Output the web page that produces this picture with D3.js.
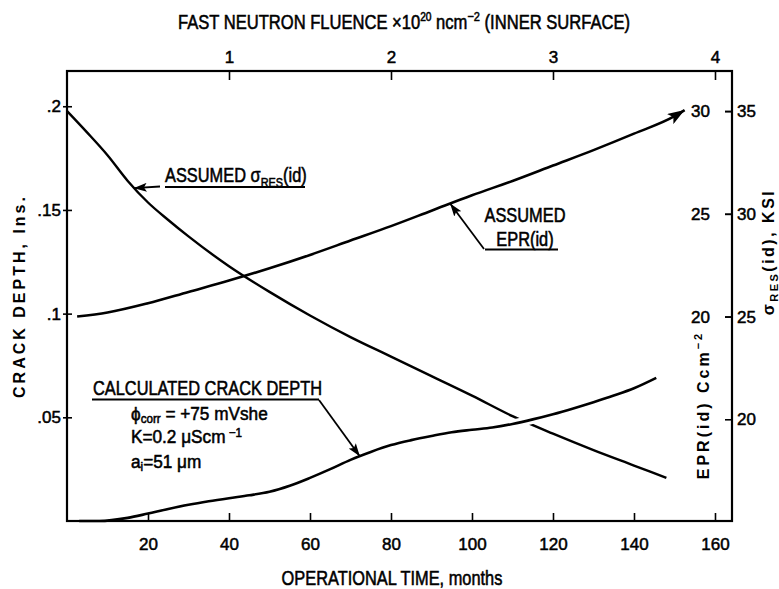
<!DOCTYPE html>
<html>
<head>
<meta charset="utf-8">
<script src="https://cdn.jsdelivr.net/npm/d3@7"></script>
<style>
  body { margin: 0; background: #fff; }
  svg { display: block; }
  .sans { font-family: "Liberation Sans", Arimo, Arial, Helvetica, sans-serif; }
  .wide { font-family: "Liberation Sans", Arimo, Arial, Helvetica, sans-serif; font-weight: bold; }
</style>
</head>
<body>
<svg id="chart" width="779" height="589"></svg>
<script>
// ---- tick values ----
const monthTicks = [20, 40, 60, 80, 100, 120, 140, 160];
const fluenceTicks = [1, 2, 3, 4];
const depthTicks = [0.05, 0.1, 0.15, 0.2];
const eprTicks = [20, 25, 30];
const sigmaTicks = [20, 25, 30, 35];

// ---- calculated crack depth (in.) vs operational time (months) ----
const depthMonths = [3, 8, 15, 20, 25, 30, 35, 40, 45, 50, 55, 60, 65, 70, 75, 80, 85, 90, 95, 100, 105, 110, 115, 120, 125, 130, 135, 140, 145.5];
const depthValues = [0, 0, 0.0015, 0.0036, 0.0058, 0.0078, 0.0095, 0.0110, 0.0124, 0.0141, 0.0170, 0.0208, 0.0250, 0.0295, 0.0333, 0.0366, 0.0390, 0.0410, 0.0428, 0.0440, 0.0451, 0.0468, 0.0490, 0.0515, 0.0543, 0.0573, 0.0605, 0.0640, 0.0690];

// ---- assumed EPR(id), C/cm^2 ----
const eprMonths = [2.5, 10, 20, 30, 40, 50, 60, 70, 80, 90, 100, 110, 120, 130, 140, 150, 152.5];
const eprValues = [20.0, 20.2, 20.65, 21.2, 21.75, 22.35, 23.0, 23.7, 24.4, 25.15, 25.9, 26.6, 27.35, 28.1, 28.9, 29.75, 30.05];

// ---- assumed residual stress sigma_RES(id), ksi ----
const sigmaMonths = [0, 5, 10, 15, 20, 25, 30, 40, 50, 60, 70, 80, 90, 100, 110, 120, 130, 140, 148];
const sigmaValues = [35.0, 33.95, 32.85, 31.6, 30.55, 29.7, 28.9, 27.45, 26.2, 25.05, 24.0, 23.05, 22.1, 21.15, 20.15, 19.3, 18.5, 17.75, 17.15];

// ---- frame ----
const L = 67, R = 732, T = 71, B = 521;

const x = d3.scaleLinear().domain([0, 164.2]).range([L, R]);
const xTop = d3.scaleLinear().domain([0, 164.2 / 40]).range([L, R]);
const yDepth = d3.scaleLinear().domain([0, 0.217]).range([B, T]);
const yEpr = d3.scaleLinear().domain([10.05, 31.95]).range([B, T]);
const ySigma = d3.scaleLinear().domain([15.05, 36.95]).range([B, T]);

const svg = d3.select("#chart");

// arrowheads
const defs = svg.append("defs");
function arrowMarker(id, len, half) {
  defs.append("marker")
    .attr("id", id)
    .attr("markerUnits", "userSpaceOnUse")
    .attr("viewBox", `0 0 ${len} ${half * 2}`)
    .attr("markerWidth", len)
    .attr("markerHeight", half * 2)
    .attr("refX", len)
    .attr("refY", half)
    .attr("orient", "auto")
    .append("path")
    .attr("d", `M0,0 L${len},${half} L0,${half * 2} L${len * 0.22},${half} Z`)
    .attr("fill", "#000");
}
arrowMarker("head", 13, 4.5);
arrowMarker("headBig", 17, 6);

function series(months, values, yScale) {
  return d3.zip(months, values).map(([m, v]) => [x(m), yScale(v)]);
}
const curve = d3.line().curve(d3.curveMonotoneX);

// residual stress curve
svg.append("path")
  .attr("d", curve(series(sigmaMonths, sigmaValues, ySigma)))
  .attr("fill", "none").attr("stroke", "#000").attr("stroke-width", 2.4);

// EPR curve, ending in an arrow
svg.append("path")
  .attr("d", curve(series(eprMonths, eprValues, yEpr)))
  .attr("fill", "none").attr("stroke", "#000").attr("stroke-width", 2.6)
  .attr("marker-end", "url(#headBig)");

// crack depth curve passes over the stress curve
const depthPath = curve(series(depthMonths, depthValues, yDepth));
svg.append("path")
  .attr("d", depthPath)
  .attr("fill", "none").attr("stroke", "#fff").attr("stroke-width", 9);
svg.append("path")
  .attr("d", depthPath)
  .attr("fill", "none").attr("stroke", "#000").attr("stroke-width", 2.6);

// frame
svg.append("rect")
  .attr("x", L).attr("y", T).attr("width", R - L).attr("height", B - T)
  .attr("fill", "none").attr("stroke", "#000").attr("stroke-width", 2.2);

function styleAxis(g) {
  g.select(".domain").remove();
  g.selectAll("line").attr("stroke", "#000").attr("stroke-width", 1.6);
  g.selectAll("text")
    .attr("class", "sans")
    .attr("fill", "#000")
    .attr("stroke", "#000").attr("stroke-width", 0.5)
    .style("font-size", "17px");
  g.attr("font-family", null).attr("font-size", null);
}

// bottom axis: months
const gBottom = svg.append("g").attr("transform", `translate(0,${B})`)
  .call(d3.axisBottom(x).tickValues(monthTicks).tickSizeInner(-8).tickSizeOuter(0).tickPadding(17));
styleAxis(gBottom);

// top axis: fluence
const gTop = svg.append("g").attr("transform", `translate(0,${T})`)
  .call(d3.axisTop(xTop).tickValues(fluenceTicks).tickSizeInner(-9).tickSizeOuter(0).tickPadding(8)
    .tickFormat(d3.format("d")));
styleAxis(gTop);

// left axis: crack depth
const depthFmt = d => d3.format(".2~f")(d).replace(/^0/, "");
const gLeft = svg.append("g").attr("transform", `translate(${L},0)`)
  .call(d3.axisLeft(yDepth).tickValues(depthTicks).tickSizeInner(4).tickSizeOuter(0).tickPadding(2)
    .tickFormat(depthFmt));
styleAxis(gLeft);
gLeft.selectAll("line").attr("x2", -4).attr("x1", 5);

// right axis, inner labels: EPR
const gEpr = svg.append("g").attr("transform", `translate(${R},0)`)
  .call(d3.axisLeft(yEpr).tickValues(eprTicks).tickSizeInner(7).tickSizeOuter(0).tickPadding(14)
    .tickFormat(d3.format("d")));
styleAxis(gEpr);
gEpr.selectAll("line").attr("x2", -7).attr("x1", 0);
gEpr.selectAll("text").attr("x", -22);

// right axis, outer labels: residual stress
const gSigma = svg.append("g").attr("transform", `translate(${R},0)`)
  .call(d3.axisRight(ySigma).tickValues(sigmaTicks).tickSizeInner(-7).tickSizeOuter(0).tickPadding(5)
    .tickFormat(d3.format("d")));
styleAxis(gSigma);

// ---- condensed text helper ----
function label(x0, y0, size, sx, anchor) {
  const g = svg.append("g").attr("transform", `translate(${x0},${y0}) scale(${sx},1)`);
  return g.append("text").attr("class", "sans")
    .attr("text-anchor", anchor || "start")
    .style("font-size", size + "px")
    .attr("fill", "#000").attr("stroke", "#000").attr("stroke-width", 0.55);
}

// ---- titles ----
const topTitle = label(404, 29, 19.5, 0.85, "middle");
topTitle.append("tspan").text("FAST NEUTRON FLUENCE \u00d710");
topTitle.append("tspan").attr("dy", -8).style("font-size", "12px").text("20");
topTitle.append("tspan").attr("dy", 8).text(" ncm");
topTitle.append("tspan").attr("dy", -8).style("font-size", "13px").text("\u22122");
topTitle.append("tspan").attr("dy", 8).text(" (INNER SURFACE)");

label(392, 584.5, 19.5, 0.84, "middle").text("OPERATIONAL TIME, months");

// left title
svg.append("text").attr("class", "wide")
  .attr("transform", "translate(25,296) rotate(-90)")
  .attr("text-anchor", "middle").style("font-size", "16px").style("letter-spacing", "3px")
  .attr("fill", "#000")
  .text("CRACK DEPTH, Ins.");

// EPR title
const eprTitle = svg.append("text").attr("class", "wide")
  .attr("transform", "translate(709,405) rotate(-90)")
  .attr("text-anchor", "middle").style("font-size", "16px").style("letter-spacing", "3px")
  .attr("fill", "#000");
eprTitle.append("tspan").text("EPR(id) Ccm");
eprTitle.append("tspan").attr("dy", -7).style("font-size", "11px").text("\u22122");

// residual stress title
const sigTitle = svg.append("text").attr("class", "wide")
  .attr("transform", "translate(774,252) rotate(-90)")
  .attr("text-anchor", "middle").style("font-size", "16px").style("letter-spacing", "2.5px")
  .attr("fill", "#000");
sigTitle.append("tspan").text("\u03c3");
sigTitle.append("tspan").attr("dy", 4).style("font-size", "11px").text("RES");
sigTitle.append("tspan").attr("dy", -4).text("(id), KSI");

// ---- annotations ----
function leader(x1, y1, x2, y2) {
  svg.append("line")
    .attr("x1", x1).attr("y1", y1).attr("x2", x2).attr("y2", y2)
    .attr("stroke", "#000").attr("stroke-width", 1.8)
    .attr("marker-end", "url(#head)");
}
function underline(x1, x2, y) {
  svg.append("line").attr("x1", x1).attr("x2", x2).attr("y1", y).attr("y2", y)
    .attr("stroke", "#000").attr("stroke-width", 1.8);
}

// assumed residual stress
const aSig = label(165, 181.5, 19.5, 0.84);
aSig.append("tspan").text("ASSUMED \u03c3");
aSig.append("tspan").attr("dy", 5).style("font-size", "13px").text("RES");
aSig.append("tspan").attr("dy", -5).text("(id)");
underline(165, 305, 187);
leader(160, 186.5, x(16.5), ySigma(31.25));

// assumed EPR
label(525, 221.5, 19.5, 0.84, "middle").text("ASSUMED");
label(525, 246, 19.5, 0.84, "middle").text("EPR(id)");
underline(485, 558, 249.5);
leader(484, 249, x(94.6), yEpr(25.5));

// calculated crack depth
label(93, 394.5, 19.5, 0.84).text("CALCULATED CRACK DEPTH");
underline(92, 319, 399.5);
leader(319, 400, x(72.3), yDepth(0.0312));

const l1 = label(131, 420, 18.5, 0.93);
l1.append("tspan").text("\u03d5");
l1.append("tspan").attr("dy", 2.5).style("font-size", "12.5px").text("corr");
l1.append("tspan").attr("dy", -2.5).text(" = +75 mVshe");

const l2 = label(131, 443, 18.5, 0.93);
l2.append("tspan").text("K=0.2 \u03bcScm");
l2.append("tspan").attr("dy", -6).style("font-size", "12.5px").text(" \u22121");

const l3 = label(131, 468, 18.5, 0.93);
l3.append("tspan").text("a");
l3.append("tspan").attr("dy", 3).style("font-size", "12.5px").text("i");
l3.append("tspan").attr("dy", -3).text("=51 \u03bcm");
</script>
</body>
</html>
